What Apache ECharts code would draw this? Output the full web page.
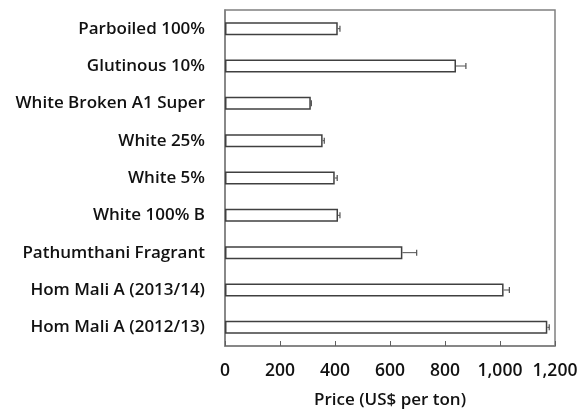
<!DOCTYPE html>
<html><head><meta charset="utf-8">
<script src="https://cdn.jsdelivr.net/npm/echarts@6/dist/echarts.min.js"></script>
<style>html,body{margin:0;padding:0;background:#fff}#c{width:580px;height:410px}</style>
</head><body><div id="c"></div>
<script>
var categories = ['Parboiled 100%','Glutinous 10%','White Broken A1 Super','White 25%','White 5%','White 100% B','Pathumthani Fragrant','Hom Mali A (2013/14)','Hom Mali A (2012/13)'];
var prices = [410, 840, 312, 355, 399, 411, 645, 1013, 1172];
var errors = [8, 36, 2, 6, 9, 7, 52, 21, 7];
var xTicks = [0, 200, 400, 600, 800, 1000, 1200];

var errData = prices.map(function(v,i){ return [i, v, v + errors[i]]; });
var chart = echarts.init(document.getElementById('c'));
var font = '"Open Sans", Lato, sans-serif';
chart.setOption({
  animation:false,
  grid:{left:225, right:25, top:10, bottom:64, show:true, borderColor:'#808080', borderWidth:1.5,
    containLabel:false, outerBoundsMode:'none'},
  xAxis:{type:'value', min:xTicks[0], max:xTicks[xTicks.length-1], interval:200,
    axisLine:{show:true, lineStyle:{color:'#808080', width:1.5}},
    axisTick:{show:true, inside:true, length:5, lineStyle:{color:'#606060'}},
    splitLine:{show:false},
    axisLabel:{color:'#111', fontSize:17.5, fontWeight:600, fontFamily:font, margin:16,
      formatter:function(v){ return v.toLocaleString('en-US'); }},
    name:'Price (US$ per ton)', nameLocation:'middle', nameGap:46,
    nameTextStyle:{color:'#111', fontSize:17, fontWeight:600, fontFamily:font}
  },
  yAxis:{type:'category', data:categories, inverse:true,
    axisLine:{show:true, lineStyle:{color:'#808080', width:1.5}},
    axisTick:{show:false},
    axisLabel:{color:'#111', fontSize:17, fontWeight:600, fontFamily:font, margin:20}
  },
  series:[
    {type:'bar', data:prices, barWidth:13,
     itemStyle:{color:'#fff', borderColor:'#404040', borderWidth:1.5}},
    {type:'custom', data:errData, z:5,
     renderItem:function(params, api){
       var y = api.value(0);
       var p0 = api.coord([api.value(1), y]);
       var p1 = api.coord([api.value(2), y]);
       return {type:'group', children:[
         {type:'line', shape:{x1:p0[0], y1:p0[1], x2:p1[0], y2:p1[1]}, style:{stroke:'#505050', lineWidth:1}},
         {type:'line', shape:{x1:p1[0], y1:p1[1]-3, x2:p1[0], y2:p1[1]+3}, style:{stroke:'#505050', lineWidth:1.2}}
       ]};
     }}
  ]
});
</script></body></html>
